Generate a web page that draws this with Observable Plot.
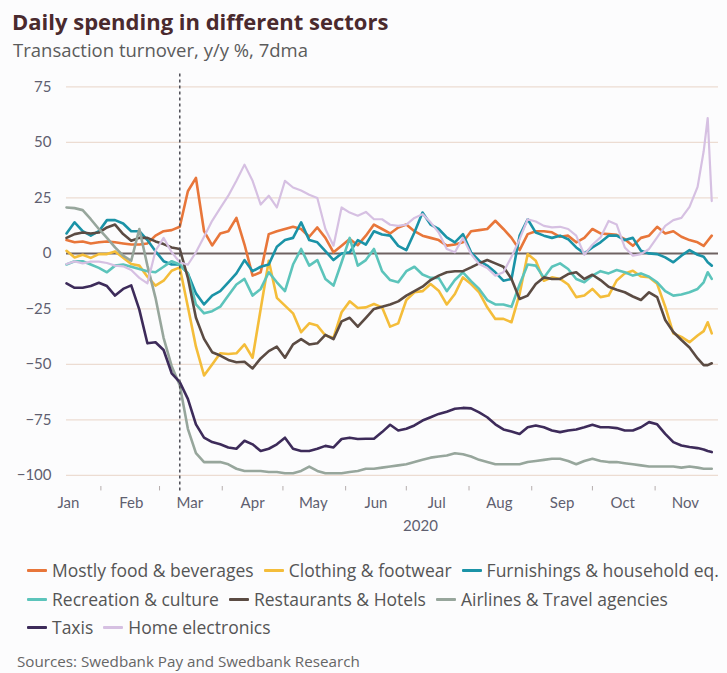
<!DOCTYPE html>
<html>
<head>
<meta charset="utf-8">
<script src="https://cdn.jsdelivr.net/npm/d3@7"></script>
<script src="https://cdn.jsdelivr.net/npm/@observablehq/plot@0.6"></script>
<style>
  html, body { margin: 0; padding: 0; background: #fcfcfd; }
  body { width: 727px; height: 673px; position: relative; overflow: hidden; font-family: "Open Sans", Lato, sans-serif; }
  #title { position: absolute; left: 12px; top: 7px; font-size: 22px; font-weight: 700; color: #4a2a2e; line-height: 28px; white-space: nowrap; }
  #subtitle { position: absolute; left: 13px; top: 38px; font-size: 18.5px; color: #5b5b5b; line-height: 24px; white-space: nowrap; }
  #chart { position: absolute; left: 0; top: 64px; }
  .legrow { position: absolute; left: 27px; font-size: 17.5px; color: #555; line-height: 22px; white-space: nowrap; display: flex; align-items: center; }
  .item { display: flex; align-items: center; margin-right: 10px; }
  .sw { width: 20px; height: 3px; margin-right: 5px; border-radius: 1px; }
  #source { position: absolute; left: 17px; top: 651px; font-size: 15.2px; color: #666; line-height: 20px; white-space: nowrap; }
</style>
</head>
<body>
<div id="title">Daily spending in different sectors</div>
<div id="subtitle">Transaction turnover, y/y %, 7dma</div>
<div id="chart"></div>
<div id="legend"></div>
<div id="source">Sources: Swedbank Pay and Swedbank Research</div>
<script>
// Day offsets from 1 Jan 2020
const days = [
  14,18,22,26,30,34,38,42,46,50,
  54,58,62,66,70,74,78,82,86,90,
  94,98,102,106,110,114,118,122,126,130,
  134,138,142,146,150,154,158,162,166,170,
  174,178,182,186,190,194,198,202,206,210,
  214,218,222,226,230,234,238,242,246,250,
  254,258,262,266,270,274,278,282,286,290,
  294,298,302,306,310,314,318,322,326,329,
  331,333
];

const food = [
  6,5,5.4,4.5,5,5.4,5,4.5,4,4,
  4.5,8,10,10.5,12,28,34,10,3.6,9,
  10,16,4,-10,-8.5,8.7,10,11,12,11,
  7.5,11.7,7,0.5,3.5,6.5,3.7,8,13,11,
  9,11.7,13,10,8,7,6,3.5,4,5,
  10,10.5,11,14.7,11,7,1.5,8.7,10,10,
  9.5,7.5,8,5,7,11,9,8.7,8.4,6.4,
  3.4,7,8,12,9,10,7.5,6,5,3.4,
  5.7,8
];

const clothing = [
  1.2,-1.8,-0.6,-2,-0.3,-0.3,0.9,-2,-4.8,-5.5,
  -10.5,-14.5,-12.3,-7.8,-6.3,-24,-42,-55,-50,-45,
  -45.3,-45,-41,-47,-25,-3.3,-20,-23.5,-27,-35.5,
  -31.5,-32.5,-37,-38,-26.5,-21.6,-24.6,-24.3,-22.8,-24.3,
  -33,-31.5,-21,-17.5,-17,-13.8,-16.8,-23,-18.3,-10.8,
  -13.8,-17.5,-24.3,-29.5,-29.5,-31,-18.3,-0.3,-3.3,-12.3,
  -10.8,-11.5,-14,-19.7,-19,-16,-19.7,-19,-12.2,-9,
  -7.8,-10.4,-10.7,-13.7,-24,-36,-37.6,-40,-37,-35,
  -31,-36
];

const furnishings = [
  9,14,10,8,10,15,15,13.5,10,10,
  6,1,-3.5,-5,-5,-9,-18,-23,-19,-17,
  -13,-9,-3,-8,-6,-5,3,6,7,14,
  6,5,1,-3,0,0.5,6,4,10,8.5,
  8,3.4,1.5,9.4,18.4,13,11,7.2,5,8.7,
  0.5,-3.3,-5.5,-8.5,-12.3,-11.5,8,15.4,9.4,8,
  7,8,6.4,2.7,0,2.7,5,8,8,6,
  7,1.2,0,-0.3,-1.8,-4,-1,1.5,-0.6,-1.5,
  -4,-5.5
];

const recreation = [
  -5,-3.5,-3.5,-5,-6.5,-8.5,-5.5,-5,-6,-7,
  -8,-8.5,-6,-3.5,-5,-9,-23,-27,-26,-24,
  -19,-14,-11.5,-19,-16,-8.5,-13,-17,-5,2,
  -5.5,-3,-11.5,-14.5,-4,7,-5.5,-3,2,-8,
  -12,-13,-8,-6,-9.5,-11,-11,-17,-12,-8.5,
  -12.5,-16,-21,-23,-23,-24,-14,-5,-5.5,-11,
  -6,-4.5,-7,-11.5,-13,-10,-8,-9,-7.5,-8.5,
  -10,-9,-10.5,-13,-17,-19,-18.5,-17.5,-16,-13,
  -8.5,-11.5
];

const restaurants = [
  7,8.7,9.4,9,9.4,11.7,13,8.7,5.7,7,
  7,5.4,4.2,2.7,2,-11,-29,-38.5,-44.5,-46,
  -48,-49,-48.8,-51.8,-47.3,-44,-42,-47,-41,-38.6,
  -41,-40.5,-36.7,-38.6,-30.6,-29,-33,-29,-25,-24,
  -23,-21.6,-19,-17,-15,-12,-10,-8.5,-8,-8,
  -6.3,-4.5,-3,-4.5,-6,-11.5,-20.5,-19,-13.8,-10.8,
  -11.5,-11.5,-9.3,-8.5,-11.5,-9.6,-12,-15,-16.4,-17.5,
  -19.4,-21,-17.5,-19.7,-30,-35.4,-39,-42.4,-47.3,-50.3,
  -50.3,-49.5
];

const airlines = [
  20.7,20.4,19.5,15.4,11,7,2.7,-1,-3.3,11,
  -5.5,-20,-38,-50.8,-59.4,-79,-90,-94,-94,-94,
  -95,-97,-98,-98,-98,-98.5,-98.5,-99,-99,-98,
  -96,-98,-99,-99,-99,-98.5,-98,-97,-97,-96.5,
  -96,-95.5,-95,-94,-93,-92,-91.5,-91,-90,-90.5,
  -91.5,-93,-94,-95,-95,-95,-95,-94,-93.5,-93,
  -92.5,-92.5,-93.5,-95,-93.5,-92.5,-93.5,-94,-94,-94.5,
  -95,-95.5,-96,-96,-96,-96,-96.5,-96,-96.5,-97,
  -97,-97
];

const taxis = [
  -13.5,-15.5,-15.5,-14.7,-13.2,-14.7,-19,-16,-14.4,-25.3,
  -40.5,-40,-43.5,-54,-58,-65.5,-77,-83,-85,-86,
  -87.4,-88,-84.4,-86,-89,-88,-86,-83,-88,-89,
  -89,-88,-86.7,-87.4,-83.6,-83,-83.6,-83.5,-83.5,-80.5,
  -77.2,-79.8,-79,-77.5,-75.3,-73.8,-72.3,-71.3,-70,-69.6,
  -69.8,-71.6,-73.8,-77,-79.3,-80.2,-81.3,-78.3,-77.5,-78.3,
  -79.8,-80.5,-79.8,-79.3,-78.3,-77.2,-78.3,-78.3,-78.7,-79.8,
  -79.8,-78.3,-76,-77,-81.3,-85,-86.5,-87.2,-87.7,-88.3,
  -89,-89.5
];

const electronics = [
  -4.8,-3.6,-4.5,-3.7,-3.7,-4.3,-5.5,-5.8,-7.5,-11,
  -13.5,1.2,7,0.5,-4,-5.1,0.5,7.5,14.7,20.4,
  26,32.7,40,32.7,22,26,20.7,32.7,29.7,28.3,
  26.4,25,11,3.5,20.7,18.4,17,18.7,15.4,15.4,
  12.9,12.4,13,16,17.7,14,9.4,2,0.5,7,
  -0.3,-4.8,-6.6,-10,-8.5,-1.5,6.4,15.4,14.4,12.4,
  11.7,12,11,8,-0.6,3.9,7.2,14.6,13,2.7,
  -1,-0.3,2,7.2,12.4,15,16,21,30,46,
  61,23.6
];

const seriesNames = [
  "Mostly food & beverages", "Clothing & footwear", "Furnishings & household eq.",
  "Recreation & culture", "Restaurants & Hotels", "Airlines & Travel agencies",
  "Taxis", "Home electronics"
];
const seriesColors = ["#e8763a", "#f4bd3a", "#1b93a7", "#5cc4bb", "#5b4b43", "#97a69c", "#3d2b5a", "#d6c0e2"];
const seriesValues = [food, clothing, furnishings, recreation, restaurants, airlines, taxis, electronics];

const yTicks = [-100, -75, -50, -25, 0, 25, 50, 75];
const monthLabelDays = [15, 46, 75, 106, 136, 167, 197, 228, 259, 289, 320]; // mid-month label positions
const monthStartDays = [31, 60, 91, 121, 152, 182, 213, 244, 274, 305];
const eventDay = 70; // 11 Mar 2020
const yearLabel = "2020";
const yearLabelDay = 189;

const toDate = d => new Date(Date.UTC(2020, 0, 1 + d));
const fmtMonth = d3.utcFormat("%b");

const rows = [];
seriesValues.forEach((arr, k) => {
  days.forEach((d, i) => rows.push({ date: toDate(d), value: arr[i], series: seriesNames[k] }));
});

const lineMarks = seriesNames.map((name, k) =>
  Plot.lineY(rows.filter(r => r.series === name), {
    x: "date", y: "value", stroke: "series",
    strokeWidth: name === "Home electronics" ? 2.2 : 2.6,
    strokeLinejoin: "round", strokeLinecap: "round"
  })
);

const axisColor = "#5f5f70";
const plot = Plot.plot({
  width: 727,
  height: 480,
  marginLeft: 66,
  marginRight: 9,
  marginTop: 8,
  marginBottom: 58,
  style: { background: "transparent", fontFamily: "Lato, 'Open Sans', sans-serif", fontSize: "15px", color: axisColor, overflow: "visible" },
  x: { type: "utc", axis: null, domain: [new Date(Date.UTC(2020, 0, 15)), new Date(Date.UTC(2020, 11, 2, 8))] },
  y: { domain: [-105, 81.5] },
  color: { domain: seriesNames, range: seriesColors },
  marks: [
    Plot.ruleY(yTicks.filter(t => t !== 0), { stroke: "#ecdcd2", strokeWidth: 1.2 }),
    Plot.axisY({ ticks: yTicks, tickSize: 0, tickPadding: 15, fontSize: 15, label: null }),
    // month boundary ticks
    Plot.ruleX(monthStartDays, { x: d => toDate(d), y1: -105, y2: -107, stroke: "#b5adad", strokeWidth: 1 }),
    // month labels (mid-month)
    Plot.text(monthLabelDays, { x: d => toDate(d), y: -112.6, text: d => fmtMonth(toDate(d)), fontSize: 15, fill: axisColor, lineAnchor: "middle" }),
    Plot.text([yearLabelDay], { x: d => toDate(d), y: -123, text: () => yearLabel, fontSize: 15, fill: axisColor, lineAnchor: "middle" }),
    Plot.ruleY([0], { stroke: "#6e6262", strokeWidth: 2 }),
    ...lineMarks,
    Plot.ruleX([eventDay], { x: d => toDate(d), y1: -107, y2: 81.5, stroke: "#4d4d55", strokeWidth: 1.5, strokeDasharray: "3,3" })
  ]
});
document.getElementById("chart").appendChild(plot);

// Legend
const legendRows = [[0, 1, 2], [3, 4, 5], [6, 7]];
const legendTops = [559, 588, 616];
const legend = document.getElementById("legend");
legendRows.forEach((idxs, r) => {
  const row = document.createElement("div");
  row.className = "legrow";
  row.style.top = legendTops[r] + "px";
  idxs.forEach(k => {
    const item = document.createElement("div");
    item.className = "item";
    const sw = document.createElement("span");
    sw.className = "sw";
    sw.style.background = seriesColors[k];
    const label = document.createElement("span");
    label.textContent = seriesNames[k];
    item.appendChild(sw);
    item.appendChild(label);
    row.appendChild(item);
  });
  legend.appendChild(row);
});
</script>
</body>
</html>
